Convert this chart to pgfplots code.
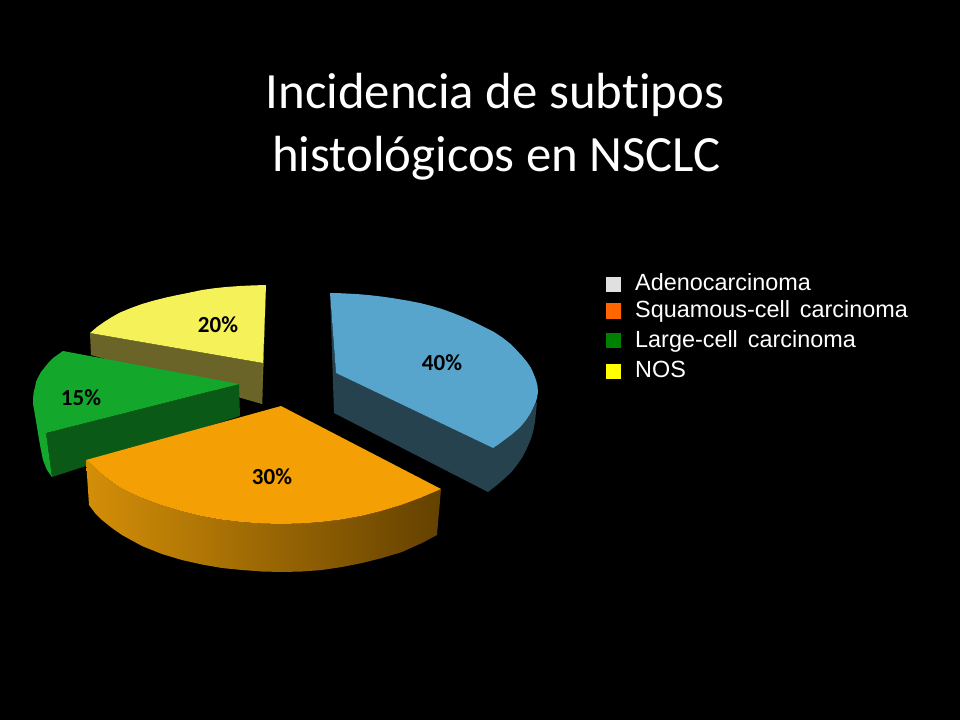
\documentclass[border=0pt]{standalone}
\usepackage{pgfplots}
\usepackage{fontspec}
\pgfplotsset{compat=1.18}
\setmainfont{Carlito}
\newfontfamily\legendfont{Liberation Sans}
\definecolor{bluetop}{HTML}{57A5CC}
\definecolor{bluewall}{HTML}{26424F}
\definecolor{yellowtop}{HTML}{F5F158}
\definecolor{yellowwall}{HTML}{6B6429}
\definecolor{yellowedge}{HTML}{C4BF45}
\definecolor{greentop}{HTML}{13A82C}
\definecolor{greenwall}{HTML}{0B5916}
\definecolor{orangetop}{HTML}{F4A004}
\begin{document}
\begin{tikzpicture}
\fill[black] (0,0) rectangle (960pt,720pt);
\begin{axis}[
    at={(0,0)}, anchor=south west,
    width=960pt, height=720pt, scale only axis,
    xmin=0, xmax=960, ymin=0, ymax=720,
    y dir=reverse,
    hide axis,
    clip=false,
    every axis plot/.append style={no markers, draw=none, forget plot},
]
% blue slice, 40%
\addplot[fill=bluewall] coordinates {(330,293) (336,373) (493,448) (517,430) (533,408) (537,402) (536,412) (535,422) (533,432) (530.5,440) (527,448) (522.5,457) (517,465) (511.5,472) (505,478) (497,485) (488,492) (334,413)} -- cycle;
\addplot[fill=bluetop] coordinates {(330,293) (340,293.2) (350,293.7) (360,294.3) (370,295.2) (382,296.6) (395,298.5) (408,300.7) (420,303) (431,305.8) (442,309) (453,313) (463,317) (474,322) (484,327) (494,332) (503,338) (510,343.5) (516,349.5) (522,356) (527,362) (531,368) (533.7,374) (536,380) (537.5,386) (538,392) (537,398) (535.5,403) (533,408) (530,414) (526,420) (522,425) (517,430) (511,435) (505,439.5) (499,444) (493,448) (336,373)} -- cycle;
% yellow slice, 20%
\addplot[fill=yellowwall] coordinates {(90,333) (263,363) (262,404) (91,355)} -- cycle;
\addplot[fill=yellowedge] coordinates {(266,285) (263,363) (262,404)} -- cycle;
\addplot[fill=yellowtop] coordinates {(90,333) (97,327) (104,322) (112,317) (120,312.5) (131,308) (142,304) (154,300.5) (167,297.3) (179,294.7) (190,292.5) (202,290) (213,288.4) (226,287) (240,286) (253,285.4) (266,285) (263,363)} -- cycle;
% green slice, 15%
\addplot[fill=greenwall] coordinates {(46,433) (239,384) (240,416) (52,477)} -- cycle;
\addplot[fill=greentop] coordinates {(33,403) (35,415) (37,427) (40,445) (43,460) (47,470) (52,477) (46,433)} -- cycle;
\addplot[fill=greentop] coordinates {(63,351) (58,354.5) (53,358) (49,362) (45,367) (41,372) (38,377.5) (36,382) (35,387) (34,391) (33.3,395) (33,403) (34.5,410) (37,417) (40,425) (43,429.5) (46,433) (239,384)} -- cycle;
% orange slice, 30%
\addplot[left color={rgb,255:red,212;green,143;blue,8}, middle color={rgb,255:red,150;green,100;blue,0}, right color={rgb,255:red,100;green,65;blue,0}]
 coordinates {(86,460) (90,463) (96,469) (103,475) (112,482) (121,488) (131,493) (141,497.6) (161,505) (181,511) (201,516) (221,519.6) (241,522) (261,523.5) (281,524) (301,523.5) (321,522) (341,519.6) (361,516) (381,511) (401,505) (421,497.6) (441,489) (437,535) (422,543) (402,552) (382,558) (362,563) (342,567) (322,570) (302,571.5) (282,572) (262,571.5) (242,570) (222,568) (202,564.5) (182,560) (162,554) (142,546) (122,535) (112,528) (102,520) (95,513) (89,505)} -- cycle;
\addplot[fill=orangetop] coordinates {(281,406) (441,489) (421,497.6) (401,505) (381,511) (361,516) (341,519.6) (321,522) (301,523.5) (281,524) (261,523.5) (241,522) (221,519.6) (201,516) (181,511) (161,505) (141,497.6) (131,493) (121,488) (112,482) (103,475) (96,469) (90,463) (86,460)} -- cycle;
% legend swatches
\addplot[fill={rgb,255:red,224;green,224;blue,224}] coordinates {(606,277) (621,277) (621,292) (606,292)} -- cycle;
\addplot[fill={rgb,255:red,255;green,102;blue,0}] coordinates {(606,303) (621,303) (621,319) (606,319)} -- cycle;
\addplot[fill={rgb,255:red,0;green,128;blue,0}] coordinates {(606,333) (621,333) (621,348) (606,348)} -- cycle;
\addplot[fill={rgb,255:red,255;green,255;blue,0}] coordinates {(606,364) (621,364) (621,379) (606,379)} -- cycle;
% texts
\node[white, anchor=base, font=\fontsize{50.8}{50.8}\selectfont] at (axis cs:495,109) {Incidencia de subt\kern0pt ipos};
\node[white, anchor=base, font=\fontsize{50.8}{50.8}\selectfont] at (axis cs:496.5,171) {histológicos en NSCLC};
\node[black, font=\fontsize{23}{23}\selectfont\bfseries] at (axis cs:442,363) {40\%};
\node[black, font=\fontsize{23}{23}\selectfont\bfseries] at (axis cs:272,477) {30\%};
\node[black, font=\fontsize{23}{23}\selectfont\bfseries] at (axis cs:218,325) {20\%};
\node[black, font=\fontsize{23}{23}\selectfont\bfseries] at (axis cs:81,398) {15\%};
\node[white, anchor=base west, inner sep=0pt, font=\fontsize{23.4}{23.4}\selectfont\legendfont] at (axis cs:635,290) {Adenocarcinoma};
\node[white, anchor=base west, inner sep=0pt, font=\fontsize{23.4}{23.4}\selectfont\legendfont] at (axis cs:635,317) {Squamous-cell\ \kern3.5pt carcinoma};
\node[white, anchor=base west, inner sep=0pt, font=\fontsize{23.4}{23.4}\selectfont\legendfont] at (axis cs:635,347) {Large-cell\ \kern3.5pt carcinoma};
\node[white, anchor=base west, inner sep=0pt, font=\fontsize{23.4}{23.4}\selectfont\legendfont] at (axis cs:635,377) {NOS};
\end{axis}
\end{tikzpicture}
\end{document}
